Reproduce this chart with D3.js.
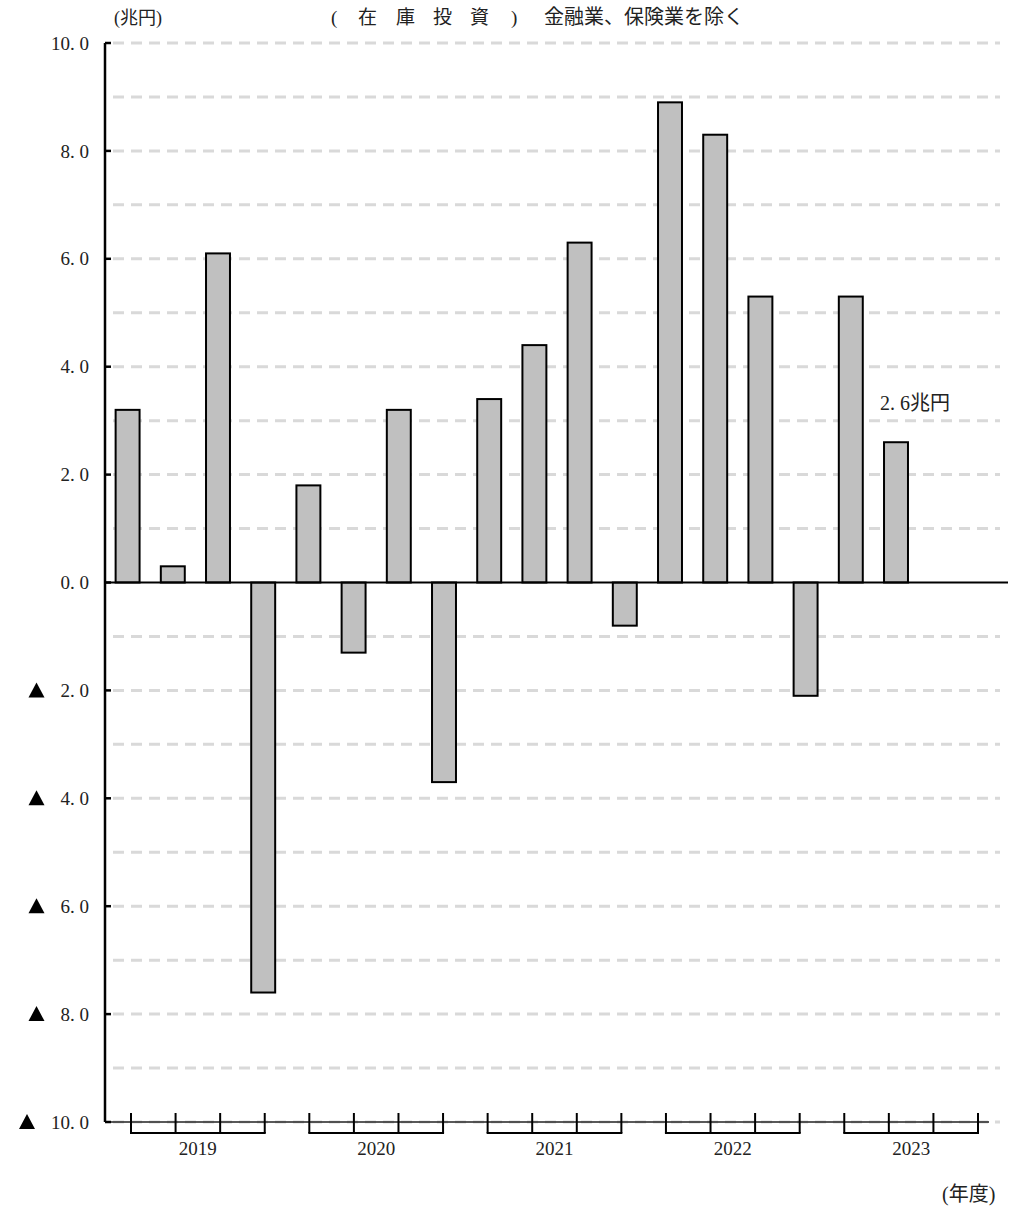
<!DOCTYPE html>
<html>
<head>
<meta charset="utf-8">
<script src="https://cdn.jsdelivr.net/npm/d3@7"></script>
<style>
  body { margin: 0; background: #fff; }
  svg { display: block; }
</style>
</head>
<body>
<svg width="1022" height="1208"></svg>
<script>
// 在庫投資（兆円）四半期, 2019-2023年度
const years = ["2019", "2020", "2021", "2022", "2023"];
const quarters = ["Q1", "Q2", "Q3", "Q4"];
const values = [3.2, 0.3, 6.1, -7.6, 1.8, -1.3, 3.2, -3.7, 3.4, 4.4, 6.3, -0.8, 8.9, 8.3, 5.3, -2.1, 5.3, 2.6];
const yTicks = [10, 8, 6, 4, 2, 0, -2, -4, -6, -8, -10];
const titleChars = ["(", "在", "庫", "投", "資", ")"];

const FONT = "'Liberation Serif', 'DejaVu Serif', 'Noto Sans CJK JP', serif";
const svg = d3.select("svg");

const slots = [];
years.forEach(yr => quarters.forEach(q => slots.push(yr + q)));

const y = d3.scaleLinear().domain([-10, 10]).range([1122, 43]);
const x = d3.scaleBand().domain(slots).range([105, 1009]).paddingInner(0.47).paddingOuter(0.235);
const xt = d3.scalePoint().domain(slots).range([131, 978]);

const left = 105;

// dashed grid
svg.append("g").selectAll("line")
  .data(d3.range(-10, 11).filter(d => d !== 0))
  .enter().append("line")
  .attr("x1", left + 8).attr("x2", 1000)
  .attr("y1", d => y(d)).attr("y2", d => y(d))
  .attr("stroke", "#d9d9d9").attr("stroke-width", 3)
  .attr("stroke-dasharray", "11,7");

// bars
svg.append("g").selectAll("rect")
  .data(values)
  .enter().append("rect")
  .attr("x", (d, i) => x(slots[i]))
  .attr("width", x.bandwidth())
  .attr("y", d => y(Math.max(0, d)))
  .attr("height", d => Math.abs(y(d) - y(0)))
  .attr("fill", "#c0c0c0")
  .attr("stroke", "#000").attr("stroke-width", 2);

// zero line
svg.append("line")
  .attr("x1", left).attr("x2", 1008)
  .attr("y1", y(0)).attr("y2", y(0))
  .attr("stroke", "#000").attr("stroke-width", 2);

// bottom axis line
svg.append("line")
  .attr("x1", left).attr("x2", 989)
  .attr("y1", y(-10)).attr("y2", y(-10))
  .attr("stroke", "#222").attr("stroke-width", 1.5);

// y axis
svg.append("line")
  .attr("x1", left).attr("x2", left)
  .attr("y1", y(10)).attr("y2", y(-10))
  .attr("stroke", "#000").attr("stroke-width", 2.5);

svg.append("g").selectAll("line")
  .data(yTicks)
  .enter().append("line")
  .attr("x1", left).attr("x2", left + 6)
  .attr("y1", d => y(d)).attr("y2", d => y(d))
  .attr("stroke", "#000").attr("stroke-width", 2.5);

const yl = svg.append("g").selectAll("g")
  .data(yTicks)
  .enter().append("g");
yl.append("text")
  .attr("x", 89).attr("y", d => y(d))
  .attr("dy", "0.35em")
  .attr("text-anchor", "end")
  .attr("font-family", FONT)
  .attr("font-size", 19)
  .attr("fill", "#222")
  .text(d => Math.abs(d).toFixed(1).replace(".", ". "));
// ▲ marks negatives, placed just before each label
yl.filter(d => d < 0).each(function(d) {
  const bx = d3.select(this).select("text").node().getBBox().x;
  const cx = bx - 24;
  d3.select(this).append("path")
    .attr("d", `M${cx - 8},${y(d) + 7} L${cx + 8},${y(d) + 7} L${cx},${y(d) - 8} Z`)
    .attr("fill", "#000");
});

// quarter ticks and year brackets
svg.append("g").selectAll("line")
  .data(slots)
  .enter().append("line")
  .attr("x1", d => xt(d)).attr("x2", d => xt(d))
  .attr("y1", y(-10) - 9).attr("y2", y(-10) + 11)
  .attr("stroke", "#000").attr("stroke-width", 2);

svg.append("g").selectAll("line")
  .data(years)
  .enter().append("line")
  .attr("x1", d => xt(d + "Q1") - 1).attr("x2", d => xt(d + "Q4") + 1)
  .attr("y1", y(-10) + 11).attr("y2", y(-10) + 11)
  .attr("stroke", "#000").attr("stroke-width", 2);

svg.append("g").selectAll("text")
  .data(years)
  .enter().append("text")
  .attr("x", d => (xt(d + "Q1") + xt(d + "Q4")) / 2)
  .attr("y", 1155)
  .attr("text-anchor", "middle")
  .attr("font-family", FONT)
  .attr("font-size", 19)
  .attr("fill", "#222")
  .text(d => d);

// texts
const txt = (x0, y0, s, size) => svg.append("text")
  .attr("x", x0).attr("y", y0)
  .attr("font-family", FONT).attr("font-size", size)
  .attr("fill", "#222").text(s);

txt(114, 24, "(兆円)", 18);
const titleX = [331, 358, 396, 433, 470, 511];
titleChars.forEach((c, i) => txt(titleX[i], 24, c, 19));
txt(544, 24, "金融業、保険業を除く", 20);
txt(880, 410, "2. 6兆円", 20);
txt(942, 1201, "(年度)", 20);
</script>
</body>
</html>
